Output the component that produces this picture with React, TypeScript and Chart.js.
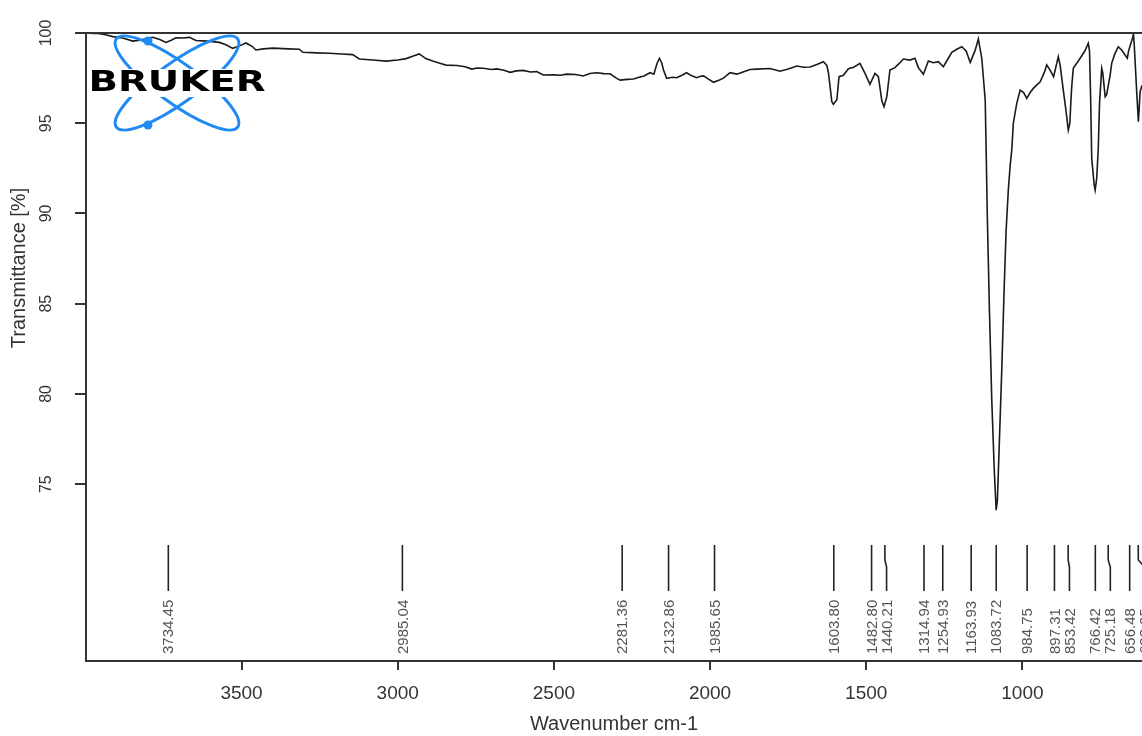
import React, { useEffect, useRef } from 'react';
import { Chart, registerables } from 'chart.js';

Chart.register(...registerables);

// ---- Data ----
const wavenumbers = [
  3998, 3975, 3960, 3935, 3912, 3880, 3848, 3820, 3784, 3760, 3742, 3725, 3710, 3690, 3667, 3646, 3610, 3571, 3550, 3528,
  3505, 3486, 3465, 3454, 3430, 3400, 3350, 3315, 3304, 3260, 3219, 3180, 3144, 3123, 3080, 3037, 3000, 2973, 2950, 2931,
  2910, 2888, 2860, 2845, 2810, 2784, 2763, 2745, 2726, 2700, 2683, 2660, 2640, 2620, 2598, 2575, 2555, 2534, 2500, 2480,
  2459, 2430, 2406, 2385, 2363, 2340, 2320, 2300, 2288, 2265, 2245, 2225, 2213, 2192, 2180, 2170, 2162, 2155, 2149, 2139,
  2120, 2107, 2090, 2075, 2060, 2043, 2030, 2021, 2005, 1989, 1970, 1957, 1936, 1914, 1890, 1872, 1850, 1808, 1790, 1776,
  1750, 1722, 1700, 1680, 1658, 1637, 1626, 1621, 1610, 1605, 1594, 1587, 1573, 1557, 1540, 1520, 1505, 1488, 1472, 1461,
  1450, 1443, 1434, 1424, 1408, 1395, 1381, 1360, 1344, 1333, 1317, 1301, 1285, 1269, 1253, 1237, 1226, 1210, 1194, 1180,
  1167, 1151, 1141, 1130, 1119, 1116, 1112, 1105.5, 1098, 1090, 1084, 1080, 1073.5, 1066, 1058.5, 1052, 1045, 1039, 1034, 1029,
  1018, 1007, 996, 986, 975, 965, 955, 943, 930, 922, 910, 900, 885, 879, 869, 860, 853, 848, 845, 842,
  837, 815, 800, 794, 789, 785, 781, 778, 770, 767, 762, 757, 753, 746, 742.5, 735, 730, 719, 714, 705,
  693, 682, 664, 660, 646, 644.6, 642, 634, 628.6, 623, 617,
];
const transmittance = [
  100.0, 99.98, 99.97, 99.9, 99.8, 99.72, 99.55, 99.62, 99.76, 99.62, 99.48, 99.6, 99.74, 99.72, 99.76, 99.58, 99.55, 99.48, 99.35, 99.15,
  99.3, 99.45, 99.25, 99.06, 99.12, 99.16, 99.12, 99.1, 98.93, 98.9, 98.88, 98.84, 98.8, 98.56, 98.5, 98.44, 98.5, 98.58, 98.72, 98.84,
  98.58, 98.45, 98.3, 98.22, 98.2, 98.13, 98.0, 98.06, 98.05, 97.98, 98.01, 97.94, 97.82, 97.9, 97.93, 97.84, 97.86, 97.67, 97.68, 97.66,
  97.72, 97.7, 97.62, 97.76, 97.8, 97.75, 97.74, 97.5, 97.39, 97.43, 97.45, 97.56, 97.6, 97.8, 97.72, 98.3, 98.6, 98.35, 97.95, 97.49,
  97.55, 97.52, 97.66, 97.8, 97.64, 97.52, 97.6, 97.62, 97.44, 97.27, 97.4, 97.5, 97.8, 97.72, 97.86, 97.98, 98.0, 98.03, 97.95, 97.88,
  98.0, 98.17, 98.1, 98.12, 98.25, 98.41, 98.2, 97.8, 96.19, 96.05, 96.3, 97.58, 97.66, 98.02, 98.1, 98.32, 97.8, 97.16, 97.76, 97.58,
  96.24, 95.92, 96.47, 97.95, 98.08, 98.3, 98.56, 98.5, 98.6, 98.08, 97.71, 98.45, 98.35, 98.41, 98.13, 98.6, 98.93, 99.1, 99.24, 99.0,
  98.37, 99.05, 99.67, 98.6, 96.29, 93.5, 89.63, 84.65, 79.66, 75.78, 73.56, 74.1, 77.44, 81.32, 85.75, 89.08, 91.3, 92.68, 93.51, 95.0,
  96.1, 96.84, 96.7, 96.38, 96.7, 96.93, 97.1, 97.3, 97.8, 98.23, 97.9, 97.58, 98.69, 98.2, 96.84, 95.64, 94.62, 95.0, 96.1, 97.03,
  98.04, 98.6, 99.0, 99.24, 99.43, 99.0, 96.01, 93.05, 91.57, 91.3, 91.95, 93.6, 96.1, 98.04, 97.77, 96.47, 96.6, 97.67, 98.32, 98.8,
  99.24, 99.06, 98.6, 99.0, 99.8, 99.98, 99.4, 96.75, 95.09, 96.75, 97.1,
];
const peakPositions = [
  3734.45, 2985.04, 2281.36, 2132.86, 1985.65, 1603.8, 1482.8, 1440.21, 1314.94, 1254.93,
  1163.93, 1083.72, 984.75, 897.31, 853.42, 766.42, 725.18, 656.48, 628.95,
];
const peakLabels = [
  '3734.45', '2985.04', '2281.36', '2132.86', '1985.65', '1603.80', '1482.80', '1440.21', '1314.94', '1254.93',
  '1163.93', '1083.72', '984.75', '897.31', '853.42', '766.42', '725.18', '656.48', '628.95',
];
const xTicks = [3500, 3000, 2500, 2000, 1500, 1000];
const yTicks = [75, 80, 85, 90, 95, 100];
const xTitle = 'Wavenumber cm-1';
const yTitle = 'Transmittance [%]';
const logoText = 'BRUKER';

const X_MIN = 617;
const X_MAX = 3998;
const Y_MIN = 65.2;
const Y_MAX = 100;

const FONT = '"Liberation Sans", Arial, Helvetica, sans-serif';
const AXIS = '#333333';

const decorPlugin = {
  id: 'decor',
  afterDatasetsDraw(chart: any) {
    const { ctx, chartArea, scales } = chart;
    const xs = scales.x;
    const ys = scales.y;
    ctx.save();

    // top frame line
    ctx.strokeStyle = AXIS;
    ctx.lineWidth = 2;
    ctx.beginPath();
    ctx.moveTo(chartArea.left, chartArea.top);
    ctx.lineTo(chartArea.right, chartArea.top);
    ctx.stroke();

    // rotated y tick labels
    ctx.fillStyle = AXIS;
    ctx.font = `16px ${FONT}`;
    ctx.textAlign = 'center';
    ctx.textBaseline = 'middle';
    yTicks.forEach((v) => {
      const py = ys.getPixelForValue(v);
      ctx.save();
      ctx.translate(47, py);
      ctx.rotate(-Math.PI / 2);
      ctx.fillText(String(v), 0, 0);
      ctx.restore();
    });

    // y title
    ctx.font = `20px ${FONT}`;
    ctx.save();
    ctx.translate(19, 268);
    ctx.rotate(-Math.PI / 2);
    ctx.fillText(yTitle, 0, 0);
    ctx.restore();

    // peak markers
    const top = chartArea.top + 512;
    const kinkA = top + 15;
    const kinkB = top + 22;
    const bottom = top + 46;
    const labelY = top + 109;
    let prev = -Infinity;
    ctx.strokeStyle = '#222';
    ctx.lineWidth = 1.6;
    ctx.fillStyle = '#555';
    ctx.font = `15px ${FONT}`;
    peakPositions.forEach((w, i) => {
      const px = xs.getPixelForValue(w);
      const lx = Math.max(px, prev + 15);
      prev = lx;
      ctx.beginPath();
      ctx.moveTo(px, top);
      ctx.lineTo(px, kinkA);
      ctx.lineTo(lx, kinkB);
      ctx.lineTo(lx, bottom);
      ctx.stroke();
      ctx.save();
      ctx.translate(lx + 1, labelY);
      ctx.rotate(-Math.PI / 2);
      ctx.textAlign = 'left';
      ctx.textBaseline = 'middle';
      ctx.fillText(peakLabels[i], 0, 0);
      ctx.restore();
    });

    // Bruker logo
    const cx = 177;
    const cy = 83;
    ctx.strokeStyle = '#1f8bf2';
    ctx.fillStyle = '#1f8bf2';
    ctx.lineWidth = 3;
    [36, -36].forEach((deg) => {
      ctx.beginPath();
      ctx.ellipse(cx, cy, 75, 20, (deg * Math.PI) / 180, 0, Math.PI * 2);
      ctx.stroke();
    });
    [[148, 41], [148, 125]].forEach(([dx, dy]) => {
      ctx.beginPath();
      ctx.arc(dx, dy, 4.5, 0, Math.PI * 2);
      ctx.fill();
    });
    ctx.fillStyle = '#ffffff';
    ctx.fillRect(89, 69, 178, 28);
    ctx.font = `bold 29px "DejaVu Sans", ${FONT}`;
    const tw = ctx.measureText(logoText).width;
    ctx.save();
    ctx.translate(cx, 83);
    ctx.scale(177 / tw, 1);
    ctx.fillStyle = '#000';
    ctx.textAlign = 'center';
    ctx.textBaseline = 'middle';
    ctx.fillText(logoText, 0, 0);
    ctx.restore();

    ctx.restore();
  },
};

export default function App() {
  const ref = useRef<HTMLCanvasElement | null>(null);

  useEffect(() => {
    if (!ref.current) return;
    const points = wavenumbers.map((w, i) => ({ x: w, y: transmittance[i] }));
    const chart = new Chart(ref.current, {
      type: 'line',
      data: {
        datasets: [
          {
            data: points,
            borderColor: '#1a1a1a',
            borderWidth: 1.6,
            pointRadius: 0,
            tension: 0,
            fill: false,
          },
        ],
      },
      options: {
        animation: false,
        responsive: false,
        devicePixelRatio: 1,
        layout: { padding: { top: 33, left: 0, right: 0, bottom: 0 } },
        plugins: { legend: { display: false }, tooltip: { enabled: false } },
        scales: {
          x: {
            type: 'linear',
            reverse: true,
            min: X_MIN,
            max: X_MAX,
            afterBuildTicks: (s: any) => {
              s.ticks = xTicks.map((v) => ({ value: v }));
            },
            afterFit: (s: any) => {
              s.height = 75;
            },
            grid: { drawOnChartArea: false, drawTicks: true, tickLength: 9, color: AXIS, lineWidth: 2 },
            border: { display: true, color: AXIS, width: 2 },
            ticks: {
              color: AXIS,
              font: { size: 19, family: FONT },
              padding: 12,
              maxRotation: 0,
              minRotation: 0,
              autoSkip: false,
              callback: (v: any) => String(v),
            },
            title: {
              display: true,
              text: xTitle,
              color: AXIS,
              font: { size: 20, family: FONT },
              padding: { top: 0, bottom: 0 },
            },
          },
          y: {
            type: 'linear',
            min: Y_MIN,
            max: Y_MAX,
            afterBuildTicks: (s: any) => {
              s.ticks = yTicks.map((v) => ({ value: v }));
            },
            afterFit: (s: any) => {
              s.width = 86;
            },
            grid: { drawOnChartArea: false, drawTicks: true, tickLength: 11, color: AXIS, lineWidth: 2 },
            border: { display: true, color: AXIS, width: 2 },
            ticks: { display: false },
          },
        },
      },
      plugins: [decorPlugin],
    } as any);
    return () => chart.destroy();
  }, []);

  return (
    <div style={{ position: 'absolute', left: 0, top: 0, width: 1142, height: 736, background: '#fff' }}>
      <canvas ref={ref} width={1142} height={736} style={{ display: 'block' }} />
    </div>
  );
}
